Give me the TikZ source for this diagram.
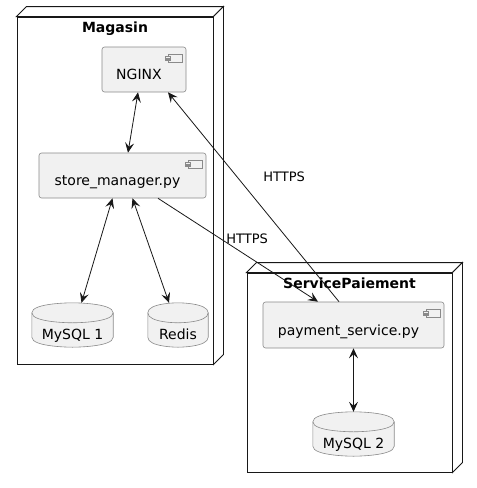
\documentclass[tikz,border=0pt]{standalone}
\usepackage{fontspec}
\setmainfont{DejaVu Sans}
\usetikzlibrary{arrows.meta,calc}
\definecolor{boxfill}{HTML}{F1F1F1}
\definecolor{boxline}{HTML}{8A8A8A}
\definecolor{ink}{HTML}{181818}
\newcommand\dbcyl[1]{%
  \draw[dbline,fill=boxfill] ($(#1.north west)+(0,10)$) .. controls (#1.north west) and (#1.north) .. (#1.north)
    .. controls (#1.north) and (#1.north east) .. ($(#1.north east)+(0,10)$)
    -- ($(#1.south east)+(0,-10)$) .. controls (#1.south east) and (#1.south) .. (#1.south)
    .. controls (#1.south) and (#1.south west) .. ($(#1.south west)+(0,-10)$) -- cycle;
  \draw[dbline] ($(#1.north west)+(0,10)$) .. controls ($(#1.north west)+(0,20)$) and ($(#1.north)+(0,20)$) .. ($(#1.north)+(0,20)$)
    .. controls ($(#1.north)+(0,20)$) and ($(#1.north east)+(0,20)$) .. ($(#1.north east)+(0,10)$);
}
\newcommand\compicon[1]{%
  \draw[iconline,fill=boxfill] ($(#1.north east)+(-18,8)$) rectangle ($(#1.north east)+(-4.5,15.5)$);
  \draw[iconline,fill=boxfill] ($(#1.north east)+(-21,9.5)$) rectangle ($(#1.north east)+(-16,11.2)$);
  \draw[iconline,fill=boxfill] ($(#1.north east)+(-21,12.3)$) rectangle ($(#1.north east)+(-16,14)$);
}
\newcommand\nodeframe[1]{%
  \draw[frameline,fill=white] (#1.north west) -- ($(#1.north west)+(10,-10)$) -- ($(#1.north east)+(10,-10)$) -- (#1.north east) -- cycle;
  \draw[frameline,fill=white] (#1.north east) -- ($(#1.north east)+(10,-10)$) -- ($(#1.south east)+(10,-10)$) -- (#1.south east) -- cycle;
}
\begin{document}
\begin{tikzpicture}[x=1pt,y=-1pt,font=\fontsize{14}{16}\selectfont,
  framebox/.style={draw=ink,line width=0.9pt,fill=white,inner sep=0pt},
  frameline/.style={draw=ink,line width=0.9pt,line join=miter},
  comp/.style={draw=boxline,fill=boxfill,rounded corners=2.5pt,line width=0.6pt,inner sep=0pt},
  iconline/.style={draw=boxline,line width=0.5pt},
  dbbox/.style={inner sep=0pt},
  dbline/.style={draw=boxline,line width=0.6pt},
  lbl/.style={inner sep=0pt,text height=10pt,text depth=3pt},
  title/.style={lbl,font=\fontsize{14}{16}\selectfont\bfseries,anchor=north,yshift=-6pt},
  conn/.style={draw=ink,line width=0.8pt},
  elabel/.style={lbl,font=\fontsize{13}{15}\selectfont},
  >={Stealth[length=10pt,width=9pt,inset=4pt]}]
\useasboundingbox (0,0) rectangle (477,488);

% containers
\node[framebox,minimum width=196pt,minimum height=347pt,
  label={[title]north:Magasin}] (mag) at (115,190.5) {};
\nodeframe{mag}
\node[framebox,minimum width=205pt,minimum height=199pt,
  label={[title]north:ServicePaiement}] (sp) at (349.5,372.5) {};
\nodeframe{sp}

% components
\node[comp,minimum width=84pt,minimum height=45pt,
  label={[lbl,xshift=-5pt,yshift=-6pt]center:NGINX}] (nginx) at (144,69.5) {};
\compicon{nginx}
\node[comp,minimum width=167pt,minimum height=45pt,
  label={[lbl,xshift=-5pt,yshift=-6pt]center:store\_manager.py}] (store) at (122.5,175.5) {};
\compicon{store}
\node[comp,minimum width=181pt,minimum height=46pt,
  label={[lbl,xshift=-5pt,yshift=-7pt]center:payment\_service.py}] (pay) at (353.5,325) {};
\compicon{pay}

% databases
\node[dbbox,minimum width=81pt,minimum height=44pt] (m1) at (72.5,325) {};
\node[dbbox,minimum width=60pt,minimum height=44pt] (redis) at (178,325) {};
\node[dbbox,minimum width=81pt,minimum height=44pt] (m2) at (353.5,434) {};
\dbcyl{m1}
\dbcyl{redis}
\dbcyl{m2}
\node[lbl] (m1t) at ([yshift=-10.5pt]m1.center) {MySQL 1};
\node[lbl] (redist) at ([yshift=-10.5pt]redis.center) {Redis};
\node[lbl] (m2t) at ([yshift=-10.5pt]m2.center) {MySQL 2};

% connectors
\draw[conn,<->] ([xshift=-6pt]nginx.south) -- ([xshift=5.5pt]store.north);
\draw[conn,<->] ([xshift=-10pt]store.south) -- ([xshift=9pt]m1.north);
\draw[conn,<->] ([xshift=10pt]store.south) -- ([xshift=-9pt]redis.north);
\draw[conn,->] ([xshift=35.5pt]store.south) -- node[elabel,pos=0.425,anchor=west,yshift=2.7pt] (h1) {HTTPS} ([xshift=-35.5pt]pay.north);
\draw[conn,->] ([xshift=-14.5pt]pay.north) -- node[elabel,pos=0.593,anchor=west,xshift=25.4pt] (h2) {HTTPS} ([xshift=24pt]nginx.south);
\draw[conn,<->] (pay.south) -- (m2.north);
\end{tikzpicture}
\end{document}
